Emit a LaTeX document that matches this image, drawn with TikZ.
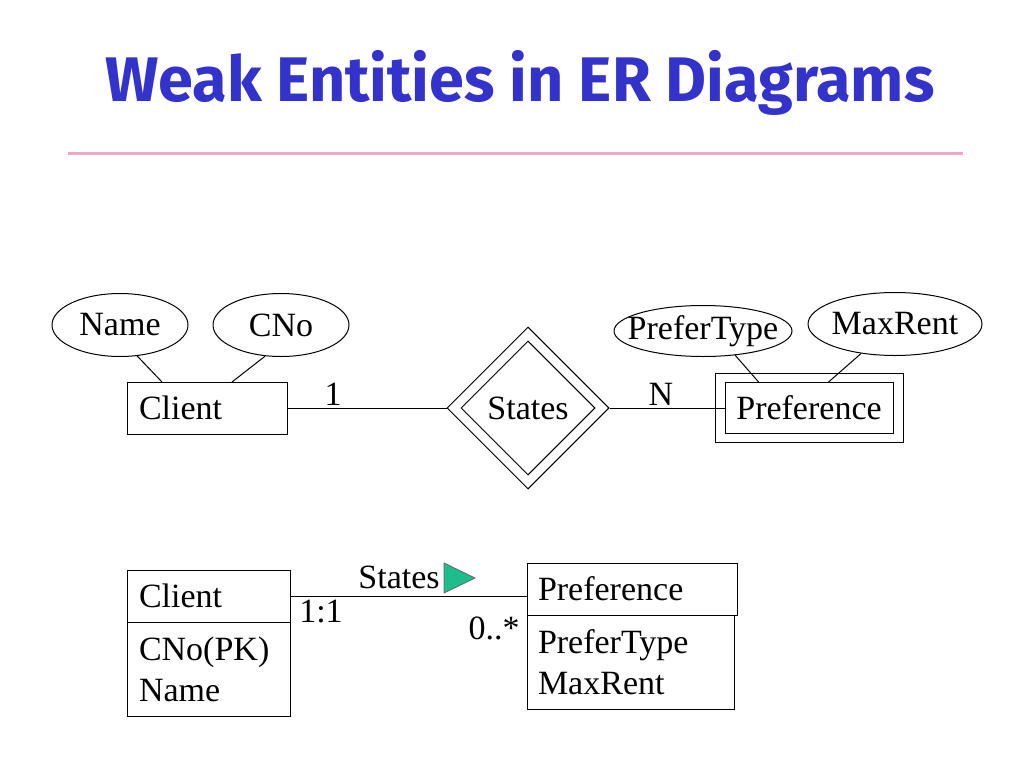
\documentclass[tikz,border=0pt]{standalone}
\usepackage{fontspec}
\setmainfont{Liberation Serif}
\newfontfamily\titlefont{Fira Sans}
\usetikzlibrary{shapes.geometric,positioning}
\definecolor{titleblue}{RGB}{51,51,204}
\definecolor{rulepink}{RGB}{244,166,200}
\definecolor{flaggreen}{RGB}{29,190,140}
\newcommand{\att}[1]{\makebox[0pt]{#1}}

\begin{document}
\begin{tikzpicture}[x=1pt,y=-1pt,line width=1pt,
                    every node/.style={font=\fontsize{34}{41}\selectfont},
                    ent/.style={rectangle,draw,inner sep=0pt,outer sep=0pt},
                    attr/.style={ellipse,draw,inner sep=0pt,minimum width=136pt,minimum height=63pt},
                    rel/.style={diamond,draw,inner sep=0pt}]
  \useasboundingbox (0,0) rectangle (1024,768);
  \node[font=\titlefont\bfseries\fontsize{63}{70}\selectfont,text=titleblue] (title) at (520,83) {Weak Entities in ER Diagrams};
  \draw[rulepink,line width=3pt] (68,153) -- (963,153);
  % ER diagram
  \node[attr] (name) at (120,325) {\att{Name}};
  \node[attr] (cno) at (281,325) {\att{CNo}};
  \node[ent,minimum width=160pt,minimum height=52pt,text width=136pt,inner xsep=12pt,align=left] (client) at (207,408) {Client};
  \node[rel,minimum size=162pt] (states) at (528,408) {\att{States}};
  \node[rel,minimum size=134pt] (statesin) at (states) {};
  \node[ent,minimum width=168pt,minimum height=51pt] (pref) at (809,408) {Preference};
  \node[ent,minimum width=188pt,minimum height=69pt] (prefout) at (pref) {};
  \node[attr,minimum width=178pt,minimum height=51pt] (ptype) at (703,331) {\att{PreferType}};
  \node[attr,minimum width=174pt] (maxrent) at (895,324) {\att{MaxRent}};
  \node (one) at (333,394) {1};
  \node (many) at (661,394) {N};
  \draw (name.-61) -- ([xshift=35pt]client.north west);
  \draw (cno.-117) -- ([xshift=105pt]client.north west);
  \draw (ptype.-37) -- ([xshift=34pt]pref.north west);
  \draw (maxrent.-139) -- ([xshift=103pt]pref.north west);
  \draw (client) -- (states);
  \draw (states) -- (pref);
  % UML notation
  \node[ent,minimum width=163pt,minimum height=52pt,text width=139pt,inner xsep=12pt,align=left] (clienthd) at (208.5,596) {Client};
  \node[ent,minimum width=163pt,minimum height=94pt,text width=139pt,inner xsep=12pt,align=left] (clientat) [below=0pt of clienthd] {CNo(PK)\\Name};
  \node[ent,minimum width=210pt,minimum height=52pt,text width=188pt,inner xsep=11pt,align=left] (prefhd) at (632,589) {Preference};
  \node[ent,minimum width=207pt,minimum height=94pt,text width=185pt,inner xsep=11pt,align=left,anchor=north west] (prefat) at (prefhd.south west) {PreferType\\MaxRent};
  \draw (clienthd.east) -- (clienthd.east -| prefhd.west);
  \node (stlabel) at (399,577) {States};
  \filldraw[fill=flaggreen,draw=black!60,line width=0.8pt] (444,563) -- (475,578) -- (444,593) -- cycle;
  \node (lone) at (321,612) {1:1};
  \node (lmany) at (494,628) {0..*};
\end{tikzpicture}
\end{document}
